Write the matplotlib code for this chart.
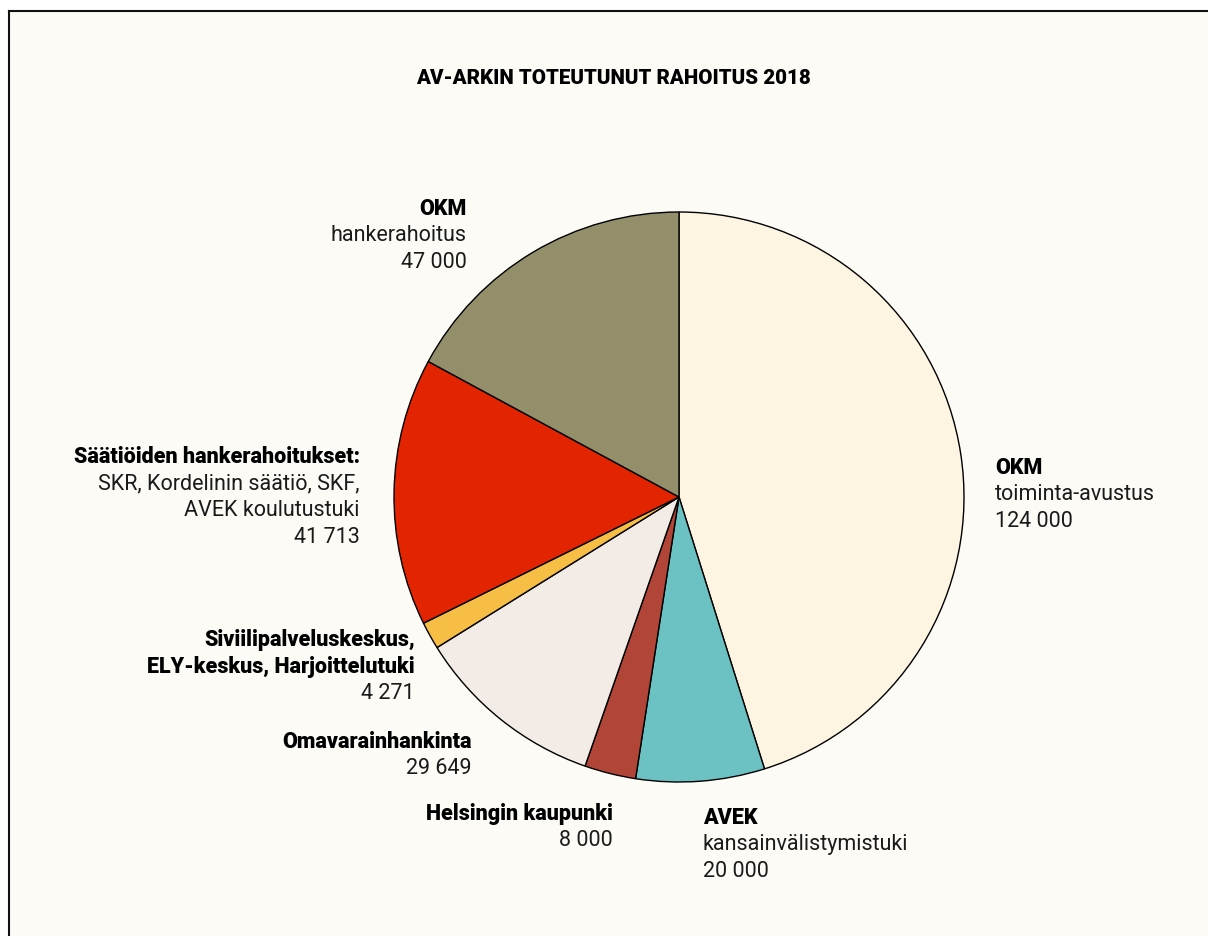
import matplotlib.pyplot as plt
from matplotlib.patches import Rectangle

# AV-arkin rahoitus 2018, slices clockwise from the top
amounts = [124000, 20000, 8000, 29649, 4271, 41713, 47000]
colors = ['#FDF5E2', '#6CC2C3', '#B04538', '#F3ECE6', '#F6BE45', '#E32400', '#938F6A']

# label blocks: (bold heading lines, normal lines, x, first line y, alignment)
headings = [['OKM'], ['AVEK'], ['Helsingin kaupunki'], ['Omavarainhankinta'],
            ['Siviilipalveluskeskus,', 'ELY-keskus, Harjoittelutuki'],
            ['Säätiöiden hankerahoitukset:'], ['OKM']]
details = [['toiminta-avustus', '124 000'], ['kansainvälistymistuki', '20 000'],
           ['8 000'], ['29 649'], ['4 271'],
           ['SKR, Kordelinin säätiö, SKF,', 'AVEK koulutustuki', '41 713'],
           ['hankerahoitus', '47 000']]
label_x = [995, 703, 613, 472, 415, 360, 467]
label_y = [468, 818, 814, 742, 640, 457, 209]
label_ha = ['left', 'left', 'right', 'right', 'right', 'right', 'right']

W, H = 1208, 936
fig = plt.figure(figsize=(W / 100, H / 100), dpi=100)
fig.patch.set_facecolor('white')
ax = fig.add_axes([0, 0, 1, 1])
ax.set_xlim(0, W)
ax.set_ylim(0, H)
ax.set_aspect('equal')
ax.axis('off')

# panel background with border on left and top
ax.add_patch(Rectangle((9, 0), W - 9, H - 11, fc='#FCFBF6', ec='none', zorder=0))
ax.plot([9, 9], [0, H - 11], color='#111111', lw=1.5, zorder=1)
ax.plot([9, W], [H - 11, H - 11], color='#111111', lw=1.5, zorder=1)

ax.pie(amounts, colors=colors, startangle=90, counterclock=False,
       center=(679, H - 497), radius=285,
       wedgeprops=dict(edgecolor='black', linewidth=1))
ax.set_xlim(0, W)
ax.set_ylim(0, H)

plt.rcParams['font.family'] = ['Roboto', 'DejaVu Sans']
ax.text(613, H - 78, 'AV-ARKIN TOTEUTUNUT RAHOITUS 2018', ha='center', va='center',
        fontsize=14.8, fontweight='heavy', color='black')

step = 26.8
for head, det, x, y, ha in zip(headings, details, label_x, label_y, label_ha):
    yy = y
    for line in head:
        ax.text(x, H - yy, line, ha=ha, va='center', fontsize=15.5,
                fontweight='heavy', color='black')
        yy += step
    for line in det:
        ax.text(x, H - yy, line, ha=ha, va='center', fontsize=15.5,
                color='#1a1a1a')
        yy += step

fig.savefig('out.png', dpi=100)
